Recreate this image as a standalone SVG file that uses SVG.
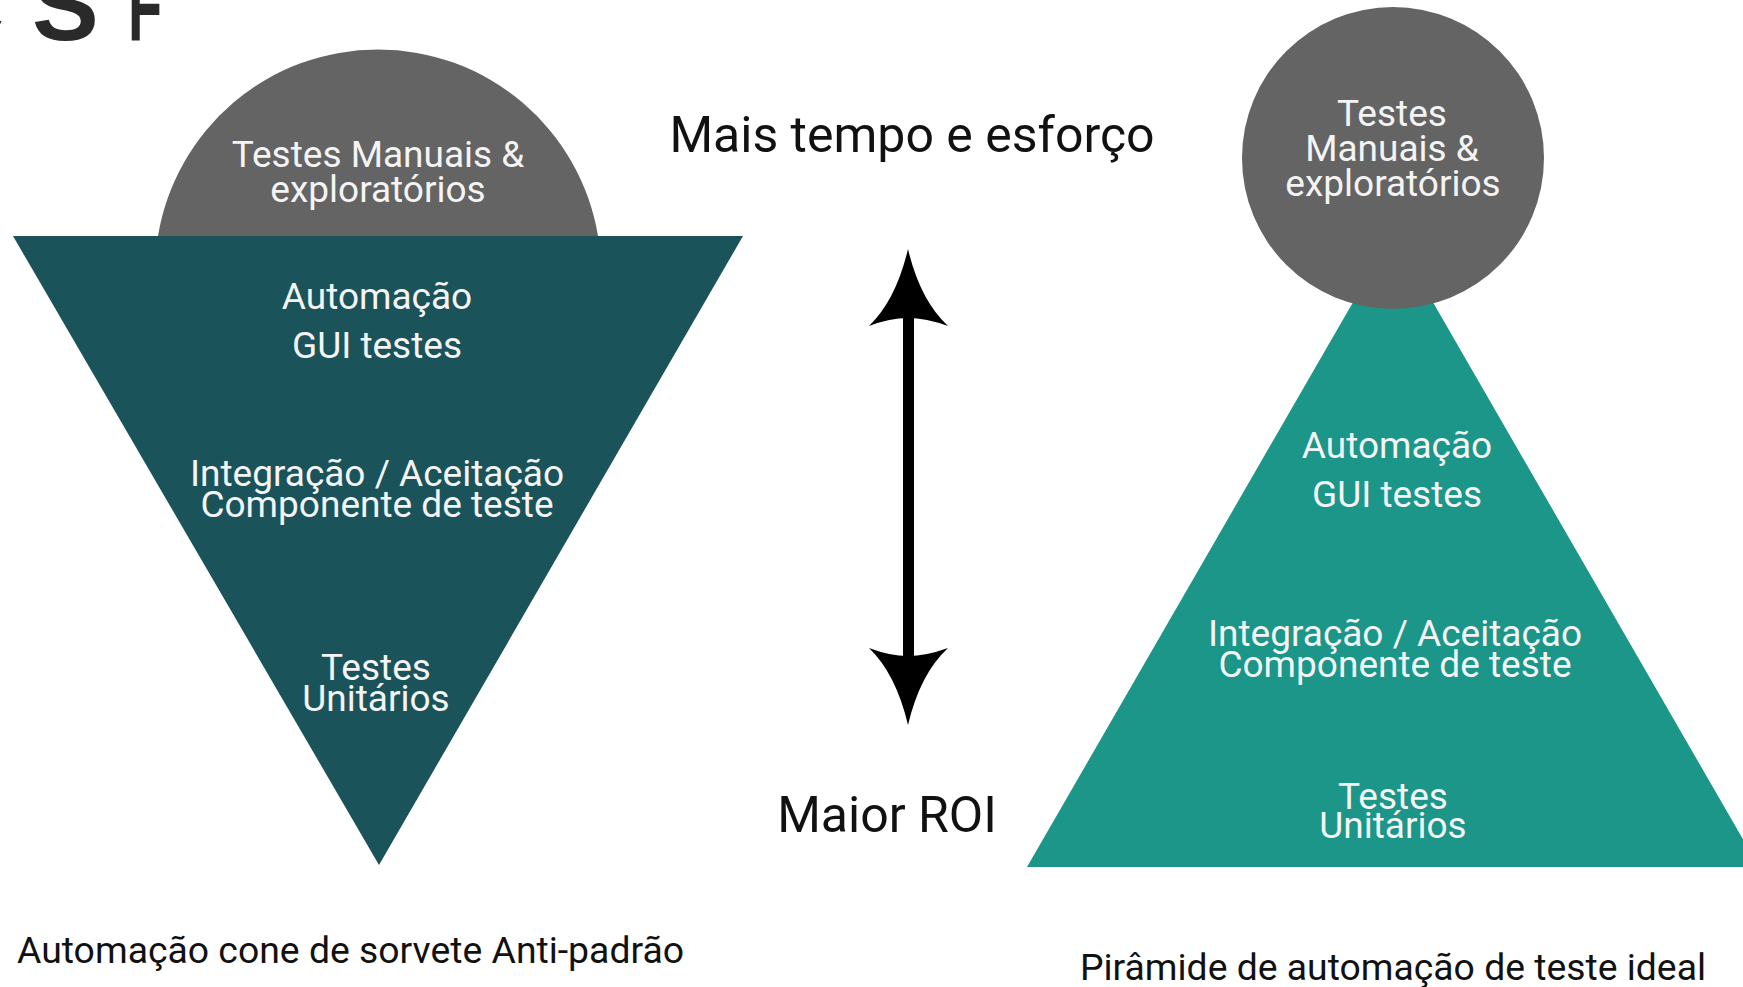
<svg xmlns="http://www.w3.org/2000/svg" width="1743" height="987" viewBox="0 0 1743 987">
<style>
.lbl{font-family:Roboto,"Liberation Sans",sans-serif;font-size:37px;fill:#f4f4f4;text-anchor:middle}
.big{font-family:Roboto,"Liberation Sans",sans-serif;font-size:50px;fill:#111;text-anchor:middle}
.cap{font-family:Roboto,"Liberation Sans",sans-serif;font-size:36px;fill:#111}
.frag{font-family:"Liberation Sans",sans-serif;font-weight:bold;font-size:100px;fill:#2a2a2a}
</style>
<rect width="1743" height="987" fill="#ffffff"/>
<g id="fragments">
<text class="frag" x="-68" y="40">C</text>
<text class="frag" x="32" y="40">S</text>
<text class="frag" x="128" y="40" textLength="34" lengthAdjust="spacingAndGlyphs">F</text>
</g>
<g id="cone">
<path d="M158,236 A223,223 0 0 1 598,236 Z" fill="#646464"/>
<polygon points="13,236 743,236 379,865" fill="#1b535a"/>
<text class="lbl" x="378" y="167">Testes Manuais &amp;</text>
<text class="lbl" x="378" y="202">exploratórios</text>
<text class="lbl" x="377" y="309">Automação</text>
<text class="lbl" x="377" y="358">GUI testes</text>
<text class="lbl" x="377" y="486">Integração / Aceitação</text>
<text class="lbl" x="377" y="517">Componente de teste</text>
<text class="lbl" x="376" y="680">Testes</text>
<text class="lbl" x="376" y="711">Unitários</text>
</g>
<g id="pyramid">
<polygon points="1393,233 1759,867 1027,867" fill="#1b9688"/>
<circle cx="1393" cy="158" r="151" fill="#646464"/>
<text class="lbl" x="1392" y="126">Testes</text>
<text class="lbl" x="1392" y="161">Manuais &amp;</text>
<text class="lbl" x="1393" y="196">exploratórios</text>
<text class="lbl" x="1397" y="458">Automação</text>
<text class="lbl" x="1397" y="507">GUI testes</text>
<text class="lbl" x="1395" y="646">Integração / Aceitação</text>
<text class="lbl" x="1395" y="677">Componente de teste</text>
<text class="lbl" x="1393" y="809">Testes</text>
<text class="lbl" x="1393" y="838">Unitários</text>
</g>
<g id="connectors">
<rect x="903" y="310" width="11" height="350" fill="#000"/>
<path d="M908,249 Q896,300 869,326 Q890,318 908,318 Q926,318 948,326 Q920,300 908,249 Z" fill="#000"/>
<path d="M908,725 Q896,674 869,648 Q890,656 908,656 Q926,656 948,648 Q920,674 908,725 Z" fill="#000"/>
</g>
<g id="labels">
<text class="big" x="912" y="152">Mais tempo e esforço</text>
<text class="big" x="887" y="832">Maior ROI</text>
<text class="cap" x="17" y="963" textLength="667" lengthAdjust="spacingAndGlyphs">Automação cone de sorvete Anti-padrão</text>
<text class="cap" x="1080" y="980" textLength="626" lengthAdjust="spacingAndGlyphs">Pirâmide de automação de teste ideal</text>
</g>
</svg>
